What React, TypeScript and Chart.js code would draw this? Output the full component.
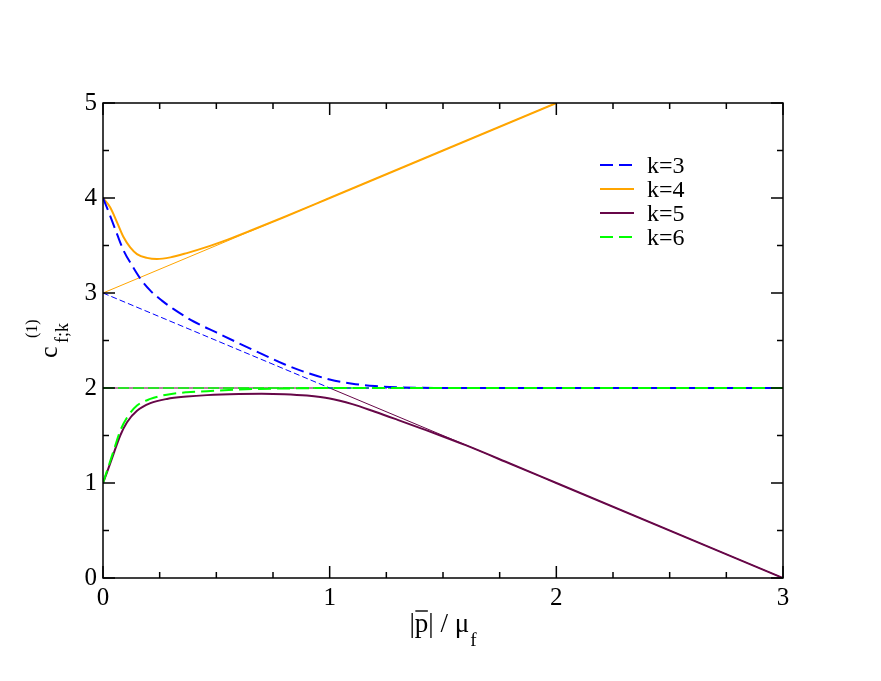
import React, { useEffect, useRef } from "react";
import { Chart, registerables } from "chart.js";

Chart.register(...registerables);

// ---- Data ----
const X_MIN = 0;
const X_MAX = 3;
const Y_MIN = 0;
const Y_MAX = 5;
const X_MAJOR_STEP = 1;
const X_MINOR_STEP = 0.25;
const Y_MAJOR_STEP = 1;
const Y_MINOR_STEP = 0.5;

const LEGEND_LABELS = ["k=3", "k=4", "k=5", "k=6"];

// thick curves
const k3X = [0, 0.032, 0.062, 0.091, 0.128, 0.165, 0.209, 0.26, 0.312, 0.4, 0.5, 0.6, 0.7, 0.8, 0.9, 1.0, 1.1, 1.2, 1.3, 1.4, 1.6, 2.0, 3.0];
const k3Y = [4, 3.81, 3.62, 3.446, 3.29, 3.15, 3.025, 2.92, 2.83, 2.70, 2.585, 2.47, 2.36, 2.25, 2.16, 2.09, 2.045, 2.02, 2.008, 2.003, 2.0, 2.0, 2.0];

const k4X = [0, 0.032, 0.062, 0.091, 0.12, 0.15, 0.194, 0.238, 0.297, 0.37, 0.459, 0.55, 0.65, 0.8, 1.0, 1.5, 2.0];
const k4Y = [4, 3.9, 3.744, 3.586, 3.48, 3.41, 3.37, 3.358, 3.375, 3.42, 3.485, 3.562, 3.655, 3.8, 4.0, 4.5, 5.0];

const k5X = [0, 0.018, 0.047, 0.076, 0.106, 0.15, 0.209, 0.282, 0.37, 0.459, 0.6, 0.7, 0.8, 0.9, 1.0, 1.1, 1.2, 1.3, 1.4, 1.5, 1.6, 1.8, 2.0, 3.0];
const k5Y = [1, 1.115, 1.31, 1.5, 1.64, 1.76, 1.84, 1.885, 1.91, 1.925, 1.937, 1.94, 1.935, 1.92, 1.89, 1.83, 1.75, 1.665, 1.578, 1.49, 1.398, 1.2, 1.0, 0.0];

const k6X = [0, 0.018, 0.047, 0.076, 0.106, 0.15, 0.209, 0.282, 0.37, 0.459, 0.6, 0.8, 1.0, 1.5, 2.0, 3.0];
const k6Y = [1, 1.13, 1.34, 1.55, 1.69, 1.815, 1.885, 1.93, 1.955, 1.967, 1.985, 1.995, 2.0, 2.0, 2.0, 2.0];

// thin asymptotes
const k3ThinX = [0, 1, 3];
const k3ThinY = [3, 2, 2];
const k4ThinX = [0, 2];
const k4ThinY = [3, 5];
const k5ThinX = [0, 1, 3];
const k5ThinY = [2, 2, 0];
const k6ThinX = [0, 3];
const k6ThinY = [2, 2];

const COLORS = ["#0000ff", "#ffa500", "#670748", "#00ff00"];
const THICK_DASH = [[13, 6], [], [], [13, 6]];
const THIN_DASH = [[6, 3], [], [], [11, 4]];

const FONT = '"Liberation Serif", "Times New Roman", serif';

const pts = (xs: number[], ys: number[]) => xs.map((x, i) => ({ x, y: ys[i] }));

const decoPlugin = {
  id: "deco",
  afterDraw(chart: any) {
    const { ctx, chartArea: a, scales } = chart;
    const xs = scales.x;
    const ys = scales.y;
    ctx.save();
    ctx.strokeStyle = "#000";
    ctx.lineWidth = 1.5;
    ctx.setLineDash([]);
    ctx.strokeRect(a.left, a.top, a.right - a.left, a.bottom - a.top);

    const seg = (x1: number, y1: number, x2: number, y2: number) => {
      ctx.beginPath();
      ctx.moveTo(x1, y1);
      ctx.lineTo(x2, y2);
      ctx.stroke();
    };
    const nx = Math.round((X_MAX - X_MIN) / X_MINOR_STEP);
    for (let i = 0; i <= nx; i++) {
      const v = X_MIN + i * X_MINOR_STEP;
      const major = Math.abs(v / X_MAJOR_STEP - Math.round(v / X_MAJOR_STEP)) < 1e-6;
      const L = major ? 12 : 6;
      const p = xs.getPixelForValue(v);
      seg(p, a.bottom, p, a.bottom - L);
      seg(p, a.top, p, a.top + L);
    }
    const ny = Math.round((Y_MAX - Y_MIN) / Y_MINOR_STEP);
    for (let i = 0; i <= ny; i++) {
      const v = Y_MIN + i * Y_MINOR_STEP;
      const major = Math.abs(v / Y_MAJOR_STEP - Math.round(v / Y_MAJOR_STEP)) < 1e-6;
      const L = major ? 12 : 6;
      const p = ys.getPixelForValue(v);
      seg(a.left, p, a.left + L, p);
      seg(a.right, p, a.right - L, p);
    }

    // legend
    ctx.textAlign = "left";
    ctx.textBaseline = "alphabetic";
    ctx.fillStyle = "#000";
    LEGEND_LABELS.forEach((lab, i) => {
      const y = 165 + 24 * i;
      ctx.strokeStyle = COLORS[i];
      ctx.lineWidth = 2;
      ctx.setLineDash(THICK_DASH[i]);
      seg(600, y, 634, y);
      ctx.setLineDash([]);
      ctx.font = `24px ${FONT}`;
      ctx.fillText(lab, 647, y + 8);
    });

    // x title: |p̄| / μ_f
    ctx.fillStyle = "#000";
    ctx.strokeStyle = "#000";
    ctx.font = `27px ${FONT}`;
    const w1 = ctx.measureText("|").width;
    const wp = ctx.measureText("p").width;
    const w3 = ctx.measureText("| / μ").width;
    ctx.font = `19px ${FONT}`;
    const wf = ctx.measureText("f").width;
    const total = w1 + wp + w3 + 1 + wf;
    const x0 = 443 - total / 2;
    const base = 632;
    ctx.font = `27px ${FONT}`;
    ctx.fillText("|", x0, base);
    ctx.fillText("p", x0 + w1, base);
    ctx.lineWidth = 1.4;
    seg(x0 + w1 + 0.5, 611, x0 + w1 + wp - 0.5, 611);
    ctx.fillText("| / μ", x0 + w1 + wp, base);
    ctx.font = `19px ${FONT}`;
    ctx.fillText("f", x0 + w1 + wp + w3 + 1, base + 14);

    // y title: c_{f;k}^{(1)}
    ctx.save();
    ctx.translate(57, 358);
    ctx.rotate(-Math.PI / 2);
    ctx.font = `26px ${FONT}`;
    ctx.fillText("c", 0, 0);
    ctx.font = `16px ${FONT}`;
    ctx.fillText("(1)", 20, -20);
    ctx.font = `18px ${FONT}`;
    ctx.fillText("f;k", 15, 11);
    ctx.restore();

    ctx.restore();
  },
};

export default function App() {
  const ref = useRef<HTMLCanvasElement | null>(null);
  useEffect(() => {
    document.body.style.margin = "0";
    const canvas = ref.current;
    if (!canvas) return;
    const thin = (xs: number[], ys: number[], i: number, order: number) => ({
      data: pts(xs, ys),
      borderColor: COLORS[i],
      borderWidth: i === 3 ? 1.3 : 1,
      borderDash: THIN_DASH[i],
      pointRadius: 0,
      tension: 0,
      fill: false,
      order,
    });
    const thick = (xs: number[], ys: number[], i: number, order: number) => ({
      label: LEGEND_LABELS[i],
      data: pts(xs, ys),
      borderColor: COLORS[i],
      borderWidth: 2,
      borderDash: THICK_DASH[i],
      pointRadius: 0,
      cubicInterpolationMode: "monotone" as const,
      fill: false,
      order,
    });
    const chart = new Chart(canvas, {
      type: "line",
      data: {
        datasets: [
          thin(k5ThinX, k5ThinY, 2, 14),
          thin(k6ThinX, k6ThinY, 3, 13),
          thin(k4ThinX, k4ThinY, 1, 12),
          thin(k3ThinX, k3ThinY, 0, 11),
          thick(k4X, k4Y, 1, 5),
          thick(k3X, k3Y, 0, 4),
          thick(k5X, k5Y, 2, 3),
          thick(k6X, k6Y, 3, 2),
        ] as any,
      },
      options: {
        animation: false,
        responsive: false,
        devicePixelRatio: 1,
        layout: { padding: { left: 0, top: 103, right: 98, bottom: 0 } },
        plugins: { legend: { display: false }, tooltip: { enabled: false } },
        scales: {
          x: {
            type: "linear",
            min: X_MIN,
            max: X_MAX,
            grid: { display: false, drawTicks: false },
            border: { display: false },
            ticks: {
              stepSize: X_MAJOR_STEP,
              color: "#000",
              padding: 5,
              font: { family: FONT, size: 25 },
            },
            afterFit: (s: any) => {
              s.height = 103;
            },
          },
          y: {
            type: "linear",
            min: Y_MIN,
            max: Y_MAX,
            grid: { display: false, drawTicks: false },
            border: { display: false },
            ticks: {
              stepSize: Y_MAJOR_STEP,
              color: "#000",
              padding: 6,
              font: { family: FONT, size: 25 },
            },
            afterFit: (s: any) => {
              s.width = 103;
            },
          },
        },
      } as any,
      plugins: [decoPlugin],
    });
    return () => chart.destroy();
  }, []);
  return (
    <div style={{ width: 881, height: 681, overflow: "hidden", background: "#fff" }}>
      <canvas ref={ref} width={881} height={681} style={{ display: "block" }} />
    </div>
  );
}
